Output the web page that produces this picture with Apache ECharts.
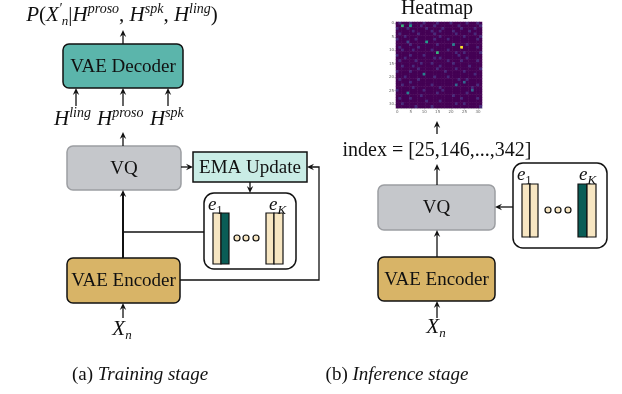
<!DOCTYPE html>
<html>
<head>
<meta charset="utf-8">
<script src="https://cdn.jsdelivr.net/npm/echarts@6/dist/echarts.min.js"></script>
<style>
  html, body { margin: 0; padding: 0; background: #fff; }
  #chart { width: 622px; height: 394px; }
</style>
</head>
<body>
<div id="chart"></div>
<script>
// heatmap cells, one string per row (0 = dark purple, 9 = yellow)
const heatRows = [
  "01000100001000010000100000100010",
  "00600500010000100000000100000001",
  "10001000000100000100000010000100",
  "00000010000001001000010000010000",
  "01000000100000100000001000000100",
  "00010000000000001000000001000001",
  "10000001000000100001000000000010",
  "00002000000500000000000000000000",
  "00000100000000010000040000100000",
  "01000000100000000000000090000010",
  "00100010000001000001000000000000",
  "00000000000000060000001001000001",
  "10000100001000000000000100000000",
  "00010000000000101000000000100000",
  "01000001000000000001000010000010",
  "00000000010001000000010000000000",
  "00100010000000001000000000010000",
  "00000000100000010000001000000001",
  "10000100000000000010000001000000",
  "00000000004000000000000000000100",
  "00010000000000100001000000000000",
  "01000000100000000000000100100000",
  "00000100000000000000000003000000",
  "00100000000001000000003000000010",
  "00000010000000001000000000001000",
  "10000000001000000100000000003000",
  "00004000000000010000000000100000",
  "00000000010000000000010000000000",
  "01000100000000000000000010000010",
  "00000000000100001000000000000000",
  "00100000000000000000001001000000",
  "00000001000001000000000000000001"
];
const heatCols = Array.from({ length: 32 }, (_, i) => String(i));
const viridis = ["#440154", "#472a7a", "#3e4989", "#31688e", "#26828e",
                 "#1f9e89", "#35b779", "#6ece58", "#b5de2b", "#fde725"];

const indexText = "index = [25,146,...,342]";
const captionA = ["(a) ", "Training stage"];
const captionB = ["(b) ", "Inference stage"];

const heatData = [];
heatRows.forEach((row, r) => {
  row.split("").forEach((ch, c) => heatData.push([c, r, Number(ch)]));
});

const SERIF = "'Liberation Serif', 'Times New Roman', serif";
const INK = "#111";

const rich = {
  m: { fontFamily: SERIF, fontStyle: "italic", fontSize: 19, lineHeight: 24, color: INK },
  big: { fontFamily: SERIF, fontStyle: "italic", fontSize: 21, lineHeight: 26, color: INK },
  bigr: { fontFamily: SERIF, fontSize: 21, lineHeight: 26, color: INK },
  r: { fontFamily: SERIF, fontSize: 19, lineHeight: 24, color: INK },
  sup: { fontFamily: SERIF, fontStyle: "italic", fontSize: 14, lineHeight: 15, verticalAlign: "top", color: INK },
  sub: { fontFamily: SERIF, fontStyle: "italic", fontSize: 13, lineHeight: 13, verticalAlign: "bottom", color: INK },
  subr: { fontFamily: SERIF, fontSize: 12, lineHeight: 12, verticalAlign: "bottom", color: INK }
};

function text(x, y, str, opts) {
  opts = opts || {};
  return {
    type: "text", x: x, y: y, z: 10,
    style: Object.assign({
      text: str, rich: rich,
      fontFamily: SERIF, fontSize: 19, fill: INK,
      align: opts.align || "center", textAlign: opts.align || "center",
      verticalAlign: "middle", textVerticalAlign: "middle"
    }, opts.style || {})
  };
}

function box(x, y, w, h, r, fill, stroke, label) {
  const out = [{
    type: "rect", z: 2,
    shape: { x: x, y: y, width: w, height: h, r: r },
    style: { fill: fill, stroke: stroke, lineWidth: 1.5 }
  }];
  if (label) out.push(text(x + w / 2, y + h / 2 + 1, label));
  return out;
}

function arrow(pts, lw) {
  const n = pts.length;
  const [x1, y1] = pts[n - 2], [x2, y2] = pts[n - 1];
  const dx = x2 - x1, dy = y2 - y1, len = Math.hypot(dx, dy);
  const ux = dx / len, uy = dy / len, px = -uy, py = ux;
  const L = 7, W = 3.2;
  const bx = x2 - ux * L, by = y2 - uy * L;
  const line = pts.slice(0, n - 1).concat([[x2 - ux * 4, y2 - uy * 4]]);
  return [
    { type: "polyline", z: 3, shape: { points: line }, style: { stroke: INK, lineWidth: lw || 1.3, fill: null } },
    { type: "polygon", z: 3, shape: { points: [
        [x2, y2], [bx + px * W, by + py * W], [x2 - ux * 4.5, y2 - uy * 4.5], [bx - px * W, by - py * W]
      ] }, style: { fill: INK } }
  ];
}

function codebook(x, y, w, h, bars, dots, eLabels) {
  const out = [{
    type: "rect", z: 2, shape: { x: x, y: y, width: w, height: h, r: 10 },
    style: { fill: "#fff", stroke: INK, lineWidth: 1.5 }
  }];
  bars.forEach(b => out.push({
    type: "rect", z: 3, shape: { x: b[0], y: b[1], width: b[2], height: b[3] },
    style: { fill: b[4] ? "#0a5d56" : "#f7e6c2", stroke: INK, lineWidth: 1.2 }
  }));
  dots.forEach(d => out.push({
    type: "circle", z: 3, shape: { cx: d[0], cy: d[1], r: 3 },
    style: { fill: "#f7e6c2", stroke: INK, lineWidth: 1.2 }
  }));
  out.push(text(eLabels[0][0], eLabels[0][1], "{m|e}{subr|1}", { align: "left" }));
  out.push(text(eLabels[1][0], eLabels[1][1], "{m|e}{sub|K}", { align: "left" }));
  return out;
}

const graphics = [].concat(
  // ---------- (a) training stage ----------
  text(122, 15, "{big|P}{bigr|(}{big|X}{sup|′}{sub|n}{bigr||}{big|H}{sup|proso}{bigr|, }{big|H}{sup|spk}{bigr|, }{big|H}{sup|ling}{bigr|)}"),
  arrow([[123, 44], [123, 30]]),
  box(63, 44, 120, 44, 6, "#5bb5ab", INK, "VAE Decoder"),
  arrow([[76, 106], [76, 88]]),
  arrow([[123, 106], [123, 88]]),
  arrow([[168, 106], [168, 88]]),
  text(54, 119, "{big|H}{sup|ling}", { align: "left" }),
  text(97, 119, "{big|H}{sup|proso}", { align: "left" }),
  text(150, 119, "{big|H}{sup|spk}", { align: "left" }),
  arrow([[123, 146], [123, 132]]),
  box(67, 146, 114, 44, 6, "#c5c7cb", "#9c9ea2", "VQ"),
  arrow([[181, 167], [193, 167]]),
  box(193, 152, 114, 30, 0, "#c9ece5", INK, "EMA Update"),
  arrow([[250, 182], [250, 193]]),
  codebook(204, 193, 92, 76,
    [[213, 213, 8, 51, 0], [221, 213, 8, 51, 1], [266, 213, 8, 51, 0], [274, 213, 9, 51, 0]],
    [[237, 238], [246, 238], [256, 238]],
    [[208, 205], [269, 205]]),
  [{ type: "polyline", z: 3, shape: { points: [[204, 232], [123, 232]] }, style: { stroke: INK, lineWidth: 1.3, fill: null } }],
  arrow([[123, 258], [123, 190]], 2),
  box(67, 258, 113, 45, 6, "#d8b467", INK, "VAE Encoder"),
  arrow([[180, 280], [319, 280], [319, 167], [307, 167]]),
  arrow([[123, 318], [123, 303]]),
  text(122, 329, "{big|X}{sub|n}"),
  text(140, 375, "{r|" + captionA[0] + "}{m|" + captionA[1] + "}"),

  // ---------- (b) inference stage ----------
  text(437, 9, "Heatmap", { style: { fontSize: 20 } }),
  arrow([[437, 134], [437, 121]]),
  text(437, 151, indexText, { style: { fontSize: 20 } }),
  arrow([[437, 185], [437, 164]]),
  box(378, 185, 117, 45, 6, "#c5c7cb", "#9c9ea2", "VQ"),
  arrow([[513, 207], [495, 207]]),
  codebook(513, 163, 94, 85,
    [[522, 184, 8, 53, 0], [530, 184, 8, 53, 0], [578, 184, 9, 53, 1], [587, 184, 9, 53, 0]],
    [[548, 210], [558, 210], [568, 210]],
    [[517, 175], [579, 175]]),
  arrow([[437, 257], [437, 230]]),
  box(378, 257, 117, 44, 6, "#d8b467", INK, "VAE Encoder"),
  arrow([[437, 318], [437, 301]]),
  text(436, 327, "{big|X}{sub|n}"),
  text(397, 375, "{r|" + captionB[0] + "}{m|" + captionB[1] + "}")
);

const tinyAxis = {
  fontSize: 4, color: "#666", margin: 2, fontFamily: "DejaVu Sans",
  interval: (i) => i % 5 === 0
};

const chart = echarts.init(document.getElementById("chart"), null, { renderer: "canvas" });
chart.setOption({
  animation: false,
  backgroundColor: "#fff",
  grid: { left: 396, top: 22, width: 86, height: 86 },
  xAxis: {
    type: "category", data: heatCols, position: "bottom",
    axisLine: { show: true, lineStyle: { color: "#999", width: 0.5 } },
    axisTick: { show: true, length: 1.5, interval: (i) => i % 5 === 0, lineStyle: { color: "#888", width: 0.5 }, alignWithLabel: true },
    axisLabel: tinyAxis,
    splitLine: { show: false }
  },
  yAxis: {
    type: "category", data: heatCols, inverse: true,
    axisLine: { show: true, lineStyle: { color: "#999", width: 0.5 } },
    axisTick: { show: true, length: 1.5, interval: (i) => i % 5 === 0, lineStyle: { color: "#888", width: 0.5 }, alignWithLabel: true },
    axisLabel: tinyAxis,
    splitLine: { show: false }
  },
  visualMap: {
    show: false, type: "continuous", min: 0, max: 9, dimension: 2,
    inRange: { color: viridis }
  },
  series: [{
    type: "heatmap", data: heatData,
    itemStyle: { borderWidth: 0 },
    emphasis: { disabled: true }
  }],
  graphic: graphics
});
</script>
</body>
</html>
